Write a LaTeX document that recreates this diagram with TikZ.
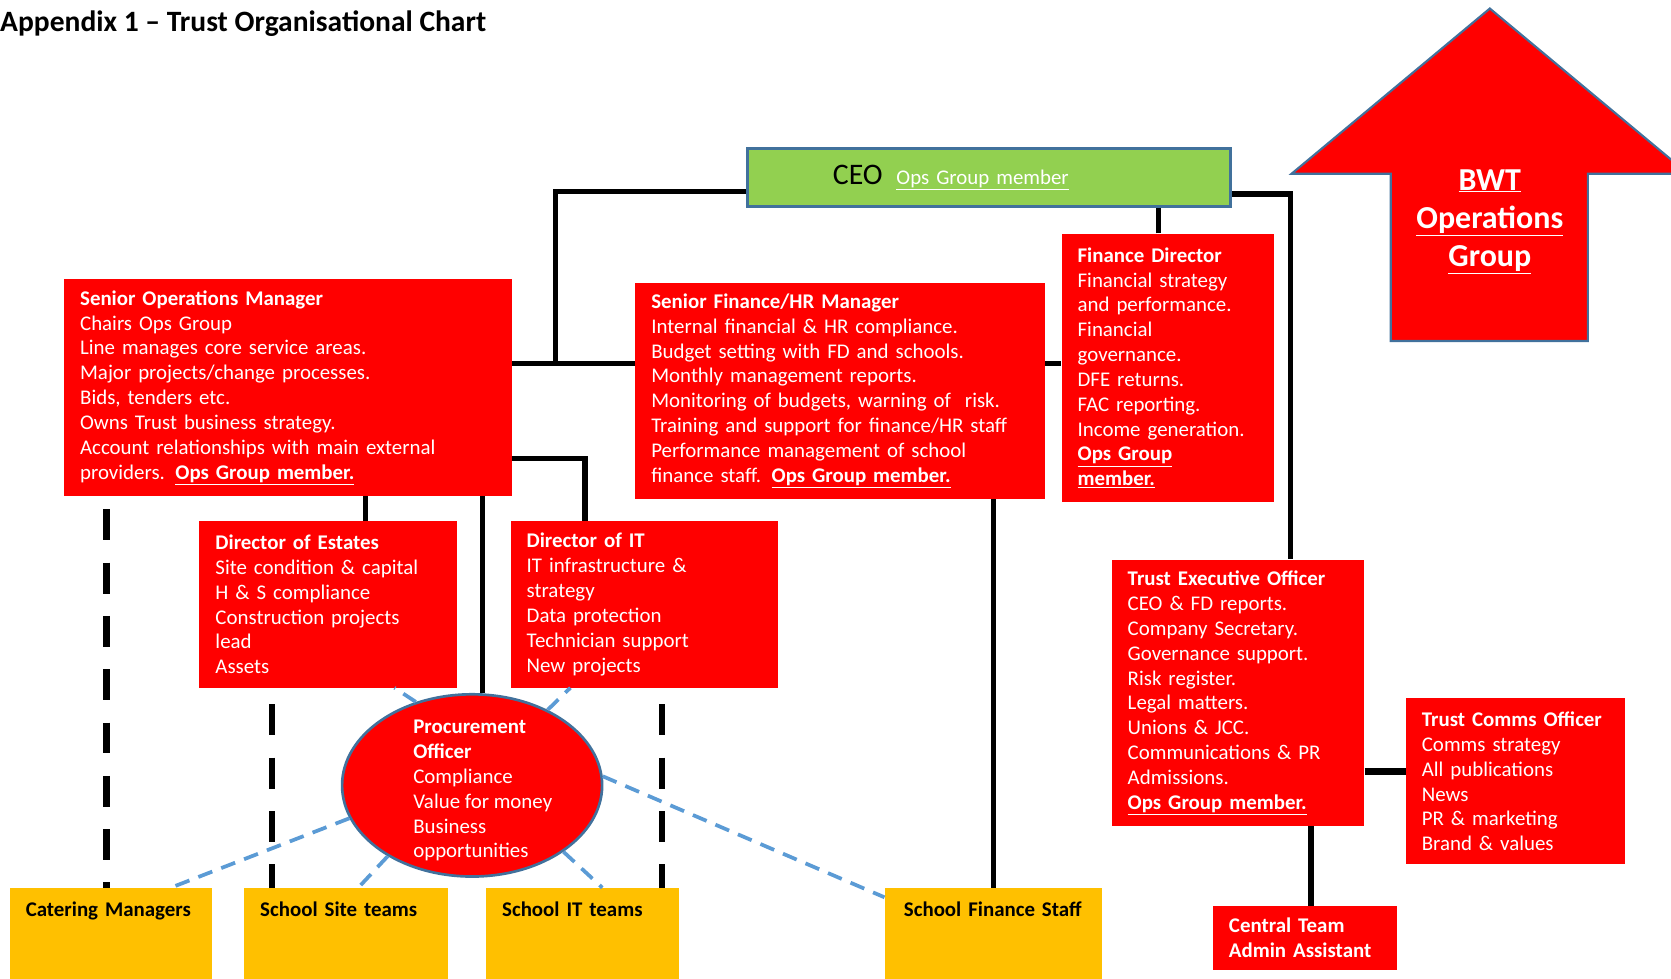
\documentclass[tikz,border=0pt]{standalone}
\usepackage{fontspec}
\setmainfont{Carlito}
\usetikzlibrary{shapes.geometric}

\definecolor{boxred}{HTML}{FF0000}
\definecolor{boxyellow}{HTML}{FFC000}
\definecolor{ceogreen}{HTML}{92D050}
\definecolor{edgeblue}{HTML}{41719C}
\definecolor{dashblue}{HTML}{5B9BD5}

\tikzset{
  redbox/.style={fill=boxred, text=white, anchor=north west, align=left, inner xsep=15pt, inner ysep=0pt, font=\fontsize{19.6}{23.3}\selectfont},
  yellowbox/.style={fill=boxyellow, text=black, anchor=north west, align=left, inner xsep=15pt, inner ysep=12.5pt, text height=14pt, text depth=90pt, font=\bfseries\fontsize{19.6}{23.3}\selectfont},
  link/.style={line width=5pt},
  dashlink/.style={line width=6pt, dash pattern=on 29pt off 21pt},
  bluelink/.style={dashblue, line width=3.5pt, dash pattern=on 14pt off 9pt}
}

\begin{document}
\begin{tikzpicture}[x=1pt, y=-1pt]
          \useasboundingbox (0,0) rectangle (1568,918);
          \clip (0,0) rectangle (1568,918);

          \node [anchor=base west, inner sep=0pt, font=\bfseries\fontsize{27.7}{32}\selectfont] (title) at (0,30) {Appendix 1 -- Trust Organisational Chart};

          % big arrow on the right
          \filldraw [fill=boxred, draw=edgeblue, line width=2pt] (1398,8) -- (1584,163) -- (1490,163) -- (1490,320) -- (1305,320) -- (1305,163) -- (1212,163) -- cycle;
          \node [text=white, align=center, font=\bfseries\fontsize{30}{36}\selectfont] (bwt) at (1398,208) {\underline{BWT}\\\underline{Operations}\\\underline{Group}};

          \node [fill=ceogreen, draw=edgeblue, line width=3pt, anchor=north west, align=left, text width=293pt, inner xsep=80pt, minimum height=54pt, font=\fontsize{19.6}{23.3}\selectfont] (ceo) at (700,138) {{\fontsize{28}{30}\selectfont CEO}\hspace{13pt}{\color{white}\underline{Ops Group member}}};

          \node [redbox, text width=390pt, minimum height=203pt] (som) at (60,262) {\textbf{Senior Operations Manager}\\Chairs Ops Group\\Line manages core service areas.\\Major projects/change processes.\\Bids, tenders etc.\\Owns Trust business strategy.\\Account relationships with main external\\providers. \textbf{\underline{Ops Group member.}}};
          \node [redbox, text width=354pt, minimum height=203pt] (sfhr) at (596,265) {\textbf{Senior Finance/HR Manager}\\Internal financial \& HR compliance.\\Budget setting with FD and schools.\\Monthly management reports.\\Monitoring of budgets, warning of\ \ risk.\\Training and support for finance/HR staff\\Performance management of school\\finance staff. \textbf{\underline{Ops Group member.}}};
          \node [redbox, text width=169pt, minimum height=252pt] (fd) at (996,219) {\textbf{Finance Director}\\Financial strategy\\and performance.\\Financial\\governance.\\DFE returns.\\FAC reporting.\\Income generation.\\\textbf{\underline{Ops Group}}\\\textbf{\underline{member.}}};

          \node [redbox, text width=212pt, minimum height=156pt] (estates) at (187,489) {\textbf{Director of Estates}\\Site condition \& capital\\H \& S compliance\\Construction projects\\lead\\Assets};
          \node [redbox, text width=221pt, minimum height=156pt] (itdir) at (479,489) {\textbf{Director of IT}\\IT infrastructure \&\\strategy\\Data protection\\Technician support\\New projects};

          \node [ellipse, fill=boxred, draw=edgeblue, line width=2.5pt, minimum width=244pt, minimum height=171pt, inner sep=0pt] (proc) at (443,737) {};
          \node [text=white, align=left, inner sep=0pt, font=\fontsize{19.6}{23.3}\selectfont] (proctext) at ([shift={(10,5)}]proc.center) {\textbf{Procurement}\\\textbf{Officer}\\Compliance\\Value for money\\Business\\opportunities};

          \node [redbox, text width=207pt, minimum height=250pt] (teo) at (1043,525) {\textbf{Trust Executive Officer}\\CEO \& FD reports.\\Company Secretary.\\Governance support.\\Risk register.\\Legal matters.\\Unions \& JCC.\\Communications \& PR\\Admissions.\\\textbf{\underline{Ops Group member.}}};
          \node [redbox, text width=176pt, minimum height=156pt] (comms) at (1319,655) {\textbf{Trust Comms Officer}\\Comms strategy\\All publications\\News\\PR \& marketing\\Brand \& values};
          \node [redbox, text width=143pt, minimum height=60pt, font=\bfseries\fontsize{19.6}{23.3}\selectfont] (admin) at (1138,850) {Central Team\\Admin Assistant};

          \node [yellowbox, text width=160pt] (catering) at (9,833) {Catering Managers};
          \node [yellowbox, text width=161pt] (sitet) at (229,833) {School Site teams};
          \node [yellowbox, text width=151pt] (itteams) at (456,833) {School IT teams};
          \node [yellowbox, text width=174pt] (finstaff) at (830,833) {\hspace*{3pt}School Finance Staff};

          \coordinate (jceo) at (521,180);
          \coordinate (jmid) at (521,341);
          \coordinate (jteo) at (1211,182);
          \coordinate (jit) at (549,430);
          \coordinate (jproc) at (453,465);
          \coordinate (jcomms) at (1300,724);
          \coordinate (d1) at (100,478);
          \coordinate (d2) at (255,661);
          \coordinate (d3) at (621,661);

          % solid reporting lines
          \draw [link] (ceo.west |- jceo) -- (jceo) -- (jmid);
          \draw [link] (som.east |- jmid) -- (sfhr.west |- jmid);
          \draw [link] (sfhr.east |- jmid) -- (fd.west |- jmid);
          \draw [link] (ceo.east |- jteo) -- (jteo) -- (jteo |- teo.north);
          \draw [link] ([xshift=-8.5pt]fd.north) -- ([xshift=-8.5pt]fd.north |- ceo.south);
          \draw [link] ([xshift=35pt]estates.north) -- ([xshift=35pt]estates.north |- som.south);
          \draw [link] (som.east |- jit) -| (itdir.north -| jit);
          \draw [link] (jproc) -- (jproc |- proc.north);
          \draw [link] (finstaff.north) -- (finstaff.north |- sfhr.south);
          \draw [link, line width=7pt] (teo.east |- jcomms) -- (comms.west |- jcomms);
          \draw [link] ([xshift=5.5pt]admin.north) -- ([xshift=5.5pt]admin.north |- teo.south);

          % dashed lines to school teams
          \draw [dashlink] (d1) -- (d1 |- catering.north);
          \draw [dashlink] (d2) -- (d2 |- sitet.north);
          \draw [dashlink] (d3) -- (d3 |- itteams.north);

          % procurement links
          \draw [bluelink] (proc.124) -- ([xshift=62pt]estates.south);
          \draw [bluelink] (proc.45) -- ([xshift=-69.5pt]itdir.south);
          \draw [bluelink] (proc.195) -- ([xshift=56pt]catering.north);
          \draw [bluelink] (proc.220) -- ([xshift=11.5pt]sitet.north);
          \draw [bluelink] (proc.324) -- ([xshift=18.5pt]itteams.north);
          \draw [bluelink] (proc.4) -- ([yshift=-9pt]finstaff.north west);
\end{tikzpicture}
\end{document}
